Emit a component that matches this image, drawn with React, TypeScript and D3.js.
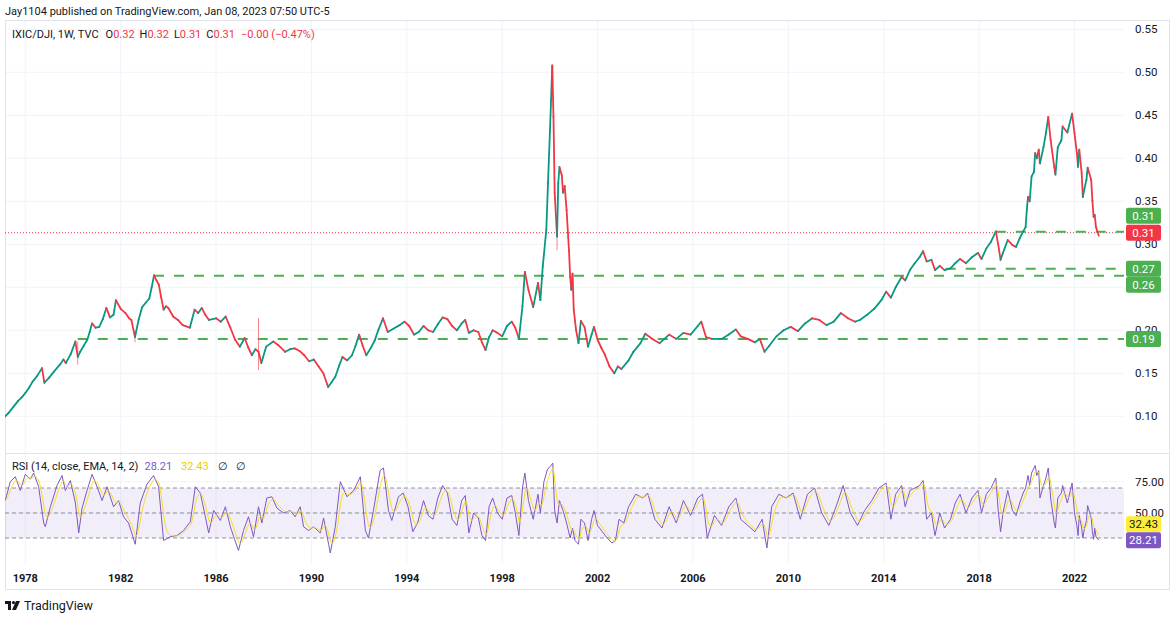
import React from 'react';
import * as d3 from 'd3';

// IXIC/DJI weekly as [decimal year, close]
const pricePoints: [number, number][] = [
  [1977.16, 0.100], [1977.3, 0.104], [1977.5, 0.111], [1977.7, 0.118], [1977.85, 0.122],
  [1978.0, 0.127], [1978.15, 0.133], [1978.3, 0.140], [1978.5, 0.147], [1978.7, 0.156],
  [1978.8, 0.139], [1979.0, 0.145], [1979.2, 0.152], [1979.45, 0.160], [1979.6, 0.166],
  [1979.7, 0.162], [1979.9, 0.172], [1980.1, 0.187], [1980.2, 0.169], [1980.3, 0.175],
  [1980.45, 0.182], [1980.6, 0.189], [1980.7, 0.198], [1980.8, 0.208], [1980.95, 0.203],
  [1981.1, 0.204], [1981.25, 0.213], [1981.4, 0.226], [1981.55, 0.215], [1981.7, 0.218],
  [1981.8, 0.235], [1982.0, 0.225], [1982.2, 0.220], [1982.35, 0.214], [1982.45, 0.212],
  [1982.6, 0.192], [1982.75, 0.212], [1982.9, 0.227], [1983.05, 0.232], [1983.2, 0.237],
  [1983.3, 0.250], [1983.4, 0.264], [1983.5, 0.258], [1983.6, 0.253], [1983.7, 0.238],
  [1983.8, 0.224], [1983.9, 0.228], [1984.0, 0.226], [1984.2, 0.216], [1984.4, 0.212],
  [1984.6, 0.206], [1984.9, 0.203], [1985.1, 0.224], [1985.25, 0.220], [1985.4, 0.226],
  [1985.55, 0.218], [1985.7, 0.212], [1986.0, 0.214], [1986.2, 0.210], [1986.4, 0.216],
  [1986.6, 0.203], [1986.8, 0.189], [1987.0, 0.181], [1987.2, 0.191], [1987.35, 0.180],
  [1987.5, 0.171], [1987.65, 0.178], [1987.78, 0.175], [1987.9, 0.162], [1988.1, 0.181],
  [1988.4, 0.187], [1988.6, 0.183], [1988.9, 0.175], [1989.1, 0.178], [1989.3, 0.179],
  [1989.5, 0.176], [1989.7, 0.171], [1989.9, 0.164], [1990.1, 0.166], [1990.3, 0.158],
  [1990.5, 0.150], [1990.7, 0.134], [1990.85, 0.140], [1991.0, 0.146], [1991.15, 0.158],
  [1991.3, 0.169], [1991.5, 0.165], [1991.7, 0.171], [1991.85, 0.182], [1992.0, 0.195],
  [1992.15, 0.182], [1992.3, 0.171], [1992.5, 0.180], [1992.65, 0.188], [1992.8, 0.200],
  [1993.0, 0.214], [1993.2, 0.198], [1993.45, 0.202], [1993.7, 0.206], [1993.9, 0.210],
  [1994.1, 0.205], [1994.3, 0.195], [1994.5, 0.198], [1994.7, 0.205], [1994.9, 0.200],
  [1995.1, 0.198], [1995.3, 0.207], [1995.5, 0.215], [1995.7, 0.213], [1995.9, 0.205],
  [1996.1, 0.200], [1996.3, 0.208], [1996.45, 0.212], [1996.6, 0.197], [1996.8, 0.200],
  [1997.0, 0.198], [1997.15, 0.186], [1997.3, 0.177], [1997.45, 0.192], [1997.6, 0.200],
  [1997.8, 0.197], [1998.0, 0.193], [1998.2, 0.205], [1998.4, 0.210], [1998.55, 0.203],
  [1998.7, 0.190], [1998.85, 0.228], [1998.95, 0.268], [1999.1, 0.247], [1999.3, 0.227],
  [1999.5, 0.255], [1999.6, 0.235], [1999.7, 0.274], [1999.85, 0.317], [1999.92, 0.371],
  [2000.0, 0.430], [2000.05, 0.468], [2000.1, 0.508], [2000.15, 0.448], [2000.2, 0.360],
  [2000.3, 0.309], [2000.35, 0.371], [2000.4, 0.390], [2000.5, 0.380], [2000.55, 0.360],
  [2000.62, 0.368], [2000.7, 0.340], [2000.8, 0.293], [2000.85, 0.262], [2000.9, 0.247],
  [2000.95, 0.266], [2001.0, 0.224], [2001.1, 0.200], [2001.2, 0.185], [2001.3, 0.211],
  [2001.45, 0.204], [2001.6, 0.181], [2001.75, 0.195], [2001.85, 0.204], [2002.0, 0.189],
  [2002.15, 0.180], [2002.3, 0.172], [2002.5, 0.158], [2002.7, 0.150], [2002.85, 0.158],
  [2003.0, 0.155], [2003.3, 0.165], [2003.5, 0.175], [2003.8, 0.185], [2004.0, 0.196],
  [2004.3, 0.190], [2004.6, 0.185], [2005.0, 0.195], [2005.3, 0.190], [2005.6, 0.197],
  [2005.9, 0.195], [2006.2, 0.205], [2006.35, 0.210], [2006.55, 0.192], [2006.8, 0.190],
  [2007.2, 0.190], [2007.5, 0.195], [2007.8, 0.201], [2008.0, 0.193], [2008.3, 0.190],
  [2008.6, 0.186], [2008.8, 0.190], [2009.0, 0.175], [2009.2, 0.182], [2009.5, 0.193],
  [2009.8, 0.200], [2010.1, 0.204], [2010.4, 0.199], [2010.7, 0.208], [2011.0, 0.214],
  [2011.3, 0.212], [2011.6, 0.206], [2011.9, 0.210], [2012.2, 0.220], [2012.5, 0.214],
  [2012.8, 0.210], [2013.0, 0.212], [2013.3, 0.218], [2013.6, 0.225], [2013.9, 0.235],
  [2014.1, 0.245], [2014.3, 0.238], [2014.5, 0.250], [2014.75, 0.262], [2014.9, 0.258],
  [2015.1, 0.270], [2015.3, 0.278], [2015.5, 0.285], [2015.65, 0.292], [2015.8, 0.280],
  [2016.0, 0.282], [2016.15, 0.270], [2016.35, 0.275], [2016.55, 0.270], [2016.8, 0.272],
  [2017.0, 0.278], [2017.2, 0.283], [2017.45, 0.278], [2017.7, 0.285], [2017.95, 0.290],
  [2018.1, 0.283], [2018.3, 0.295], [2018.5, 0.303], [2018.7, 0.315], [2018.8, 0.300],
  [2018.9, 0.282], [2019.0, 0.290], [2019.2, 0.305], [2019.4, 0.299], [2019.55, 0.297],
  [2019.7, 0.307], [2019.85, 0.315], [2019.95, 0.320], [2020.0, 0.340], [2020.05, 0.355],
  [2020.12, 0.350], [2020.2, 0.379], [2020.3, 0.384], [2020.35, 0.406], [2020.42, 0.400],
  [2020.5, 0.410], [2020.55, 0.394], [2020.7, 0.413], [2020.8, 0.429], [2020.9, 0.448],
  [2021.0, 0.421], [2021.15, 0.390], [2021.2, 0.381], [2021.3, 0.413], [2021.45, 0.421],
  [2021.5, 0.437], [2021.7, 0.430], [2021.9, 0.452], [2022.0, 0.429], [2022.1, 0.406],
  [2022.15, 0.390], [2022.2, 0.410], [2022.3, 0.383], [2022.35, 0.355], [2022.42, 0.365],
  [2022.5, 0.375], [2022.55, 0.389], [2022.7, 0.375], [2022.75, 0.351], [2022.8, 0.332],
  [2022.85, 0.334], [2022.9, 0.320], [2023.02, 0.310],
];

// single-week spikes: [decimal year, low, high]
const wicks: [number, number, number][] = [
  [1987.78, 0.154, 0.214], [2000.3, 0.293, 0.330], [1980.2, 0.160, 0.187], [1982.6, 0.186, 0.200],
];

// RSI(14): [decimal year, value]
const rsiPoints: [number, number][] = [
  [1977.16, 60], [1977.37, 75], [1977.58, 79], [1977.79, 68], [1978.0, 81], [1978.21, 77],
  [1978.35, 82], [1978.56, 71], [1978.77, 42], [1978.84, 39], [1979.05, 55], [1979.33, 72],
  [1979.54, 80], [1979.68, 68], [1979.89, 76], [1980.1, 58], [1980.24, 34], [1980.38, 54],
  [1980.59, 68], [1980.8, 81], [1981.01, 71], [1981.22, 60], [1981.43, 71], [1981.7, 55],
  [1981.91, 60], [1982.12, 47], [1982.33, 42], [1982.61, 25], [1982.82, 58], [1983.1, 73],
  [1983.38, 80], [1983.59, 71], [1983.8, 28], [1984.08, 31], [1984.36, 32], [1984.64, 36],
  [1984.92, 43], [1985.13, 71], [1985.34, 66], [1985.55, 47], [1985.69, 34], [1985.9, 52],
  [1986.18, 44], [1986.39, 55], [1986.6, 39], [1986.74, 31], [1986.94, 20], [1987.15, 36],
  [1987.36, 47], [1987.57, 31], [1987.78, 55], [1987.92, 42], [1988.13, 62], [1988.34, 63],
  [1988.55, 54], [1988.83, 50], [1989.11, 52], [1989.32, 47], [1989.53, 55], [1989.67, 39],
  [1989.88, 36], [1990.09, 39], [1990.37, 34], [1990.51, 46], [1990.72, 25], [1990.79, 18],
  [1991.0, 39], [1991.21, 75], [1991.49, 63], [1991.77, 68], [1992.05, 79], [1992.26, 36],
  [1992.39, 30], [1992.6, 52], [1992.88, 84], [1993.02, 86], [1993.23, 52], [1993.37, 44],
  [1993.65, 63], [1993.85, 66], [1994.05, 55], [1994.25, 35], [1994.45, 42], [1994.7, 60],
  [1994.9, 48], [1995.1, 45], [1995.3, 62], [1995.5, 72], [1995.7, 66], [1995.9, 45],
  [1996.1, 40], [1996.3, 60], [1996.45, 64], [1996.6, 34], [1996.8, 50], [1997.0, 46],
  [1997.15, 32], [1997.3, 28], [1997.45, 55], [1997.6, 62], [1997.8, 50], [1998.0, 45],
  [1998.2, 62], [1998.4, 64], [1998.55, 50], [1998.7, 32], [1998.85, 70], [1998.95, 82],
  [1999.1, 60], [1999.3, 45], [1999.5, 65], [1999.6, 50], [1999.75, 75], [1999.9, 85],
  [2000.05, 88], [2000.12, 90], [2000.2, 52], [2000.3, 42], [2000.4, 60], [2000.55, 52],
  [2000.7, 42], [2000.85, 30], [2000.95, 38], [2001.05, 28], [2001.2, 25], [2001.3, 45],
  [2001.45, 42], [2001.6, 28], [2001.75, 45], [2001.85, 52], [2002.0, 40], [2002.2, 35],
  [2002.4, 30], [2002.6, 26], [2002.75, 28], [2002.9, 45], [2003.1, 42], [2003.3, 55],
  [2003.6, 65], [2003.9, 62], [2004.1, 66], [2004.4, 45], [2004.7, 38], [2005.0, 55],
  [2005.3, 42], [2005.6, 60], [2005.9, 48], [2006.2, 62], [2006.4, 65], [2006.6, 30],
  [2006.9, 48], [2007.2, 40], [2007.5, 55], [2007.8, 62], [2008.0, 45], [2008.3, 40],
  [2008.6, 35], [2008.9, 45], [2009.1, 22], [2009.3, 55], [2009.6, 65], [2009.9, 62],
  [2010.2, 66], [2010.5, 45], [2010.8, 65], [2011.1, 70], [2011.4, 50], [2011.7, 40],
  [2012.0, 55], [2012.3, 72], [2012.6, 50], [2012.9, 40], [2013.2, 52], [2013.5, 60],
  [2013.8, 70], [2014.1, 74], [2014.3, 45], [2014.5, 65], [2014.75, 72], [2014.9, 55],
  [2015.1, 68], [2015.3, 70], [2015.5, 72], [2015.65, 76], [2015.8, 45], [2016.0, 50],
  [2016.15, 32], [2016.35, 50], [2016.55, 38], [2016.8, 45], [2017.0, 58], [2017.2, 65],
  [2017.45, 50], [2017.7, 62], [2017.95, 68], [2018.1, 50], [2018.3, 65], [2018.5, 70],
  [2018.7, 78], [2018.8, 52], [2018.9, 35], [2019.0, 50], [2019.2, 68], [2019.4, 52],
  [2019.55, 48], [2019.7, 58], [2019.85, 66], [2019.95, 70], [2020.05, 80], [2020.12, 72],
  [2020.2, 82], [2020.35, 88], [2020.42, 80], [2020.5, 84], [2020.55, 62], [2020.7, 72],
  [2020.8, 78], [2020.9, 86], [2021.0, 62], [2021.15, 42], [2021.2, 38], [2021.3, 62],
  [2021.45, 66], [2021.5, 72], [2021.7, 58], [2021.9, 74], [2022.0, 50], [2022.1, 40],
  [2022.15, 32], [2022.2, 48], [2022.3, 38], [2022.35, 30], [2022.42, 38], [2022.5, 44],
  [2022.55, 56], [2022.7, 46], [2022.75, 35], [2022.8, 29], [2022.85, 38], [2022.9, 31],
  [2023.02, 28.21],
];

const yearTicks = [1978, 1982, 1986, 1990, 1994, 1998, 2002, 2006, 2010, 2014, 2018, 2022];
const gridTicks = [0.10, 0.15, 0.20, 0.25, 0.30, 0.35, 0.40, 0.45, 0.50, 0.55];
// 0.25 sits under the level labels, so it is not written
const priceTicks = [0.10, 0.15, 0.20, 0.30, 0.35, 0.40, 0.45, 0.50, 0.55];
const rsiTicks = [75, 50];

// user-drawn horizontal levels: [start year, level, label]
const levels: [number, number, string][] = [
  [1980.2, 0.190, '0.19'],
  [1983.4, 0.2635, '0.26'],
  [2016.6, 0.2715, '0.27'],
  [2018.7, 0.3145, '0.31'],
];

const lastClose = 0.3135;
const rsiLast = 28.21;
const rsiMaLength = 14;

const GREEN = '#089981';
const RED = '#f23645';
const LINE_GREEN = '#4caf50';
const GRID = '#f0f3fa';
const BORDER = '#e0e3eb';
const TEXT = '#131722';
const FONT = 'Roboto, "Noto Sans", sans-serif';

export default function App() {
  const left = 5, right = 1124, frameRight = 1169;
  const top = 20, paneBottom = 453, rsiBottom = 563, bottom = 589;

  const x = d3.scaleLinear().domain([1978, 2022]).range([25.3, 1074.5]);
  const yP = d3.scaleLinear().domain([0.10, 0.55]).range([416.3, 29.3]);
  const yR = d3.scaleLinear().domain([30, 70]).range([538, 488]);

  // EMA(14) of the RSI, stepped weekly along the RSI path
  const alpha = 2 / (rsiMaLength + 1);
  const week = 1 / 52;
  const rsiMa: [number, number][] = [[rsiPoints[0][0], rsiPoints[0][1]]];
  let m = rsiPoints[0][1];
  for (let i = 1; i < rsiPoints.length; i++) {
    const [t0, v0] = rsiPoints[i - 1];
    const [t1, v1] = rsiPoints[i];
    const n = Math.max(1, Math.round((t1 - t0) / week));
    for (let k = 1; k <= n; k++) {
      m += alpha * (v0 + (v1 - v0) * k / n - m);
      rsiMa.push([t0 + (t1 - t0) * k / n, m]);
    }
  }

  const rsiLine = d3.line<[number, number]>().x(d => x(d[0])).y(d => yR(d[1]));

  const label = (cy: number, text: string, bg: string, fg = '#fff') => (
    <g key={text + cy + bg}>
      <rect x={1126} y={cy - 8} width={35} height={16} rx={2} fill={bg} />
      <text x={1143.5} y={cy + 4} textAnchor="middle" fontSize={11.5} fill={fg} fontFamily={FONT}>{text}</text>
    </g>
  );

  return (
    <svg width={1171} height={617} style={{ position: 'absolute', left: 0, top: 0, background: '#fff' }}>
      <rect width={1171} height={617} fill="#fff" />
      <defs>
        <clipPath id="main"><rect x={left} y={top} width={right - left} height={paneBottom - top} /></clipPath>
        <clipPath id="rsi"><rect x={left} y={paneBottom} width={right - left} height={rsiBottom - paneBottom} /></clipPath>
      </defs>

      <text x={5} y={15} fontSize={11} fill={TEXT} fontFamily={FONT}>
        Jay1104 published on TradingView.com, Jan 08, 2023 07:50 UTC-5
      </text>

      {/* grid */}
      {yearTicks.map(t => (
        <line key={'vg' + t} x1={x(t)} x2={x(t)} y1={top} y2={rsiBottom} stroke={GRID} />
      ))}
      {gridTicks.map(t => (
        <line key={'hg' + t} x1={left} x2={right} y1={yP(t)} y2={yP(t)} stroke={GRID} />
      ))}
      {rsiTicks.map(t => (
        <line key={'rg' + t} x1={left} x2={right} y1={yR(t)} y2={yR(t)} stroke={GRID} />
      ))}

      {/* frame */}
      <rect x={left + 0.5} y={top + 0.5} width={frameRight - left} height={bottom - top} fill="none" stroke={BORDER} />
      <line x1={left} x2={frameRight} y1={paneBottom + 0.5} y2={paneBottom + 0.5} stroke={BORDER} />

      {/* price pane */}
      <g clipPath="url(#main)">
        <line x1={left} x2={right} y1={yP(lastClose)} y2={yP(lastClose)} stroke={RED} strokeDasharray="1 2" strokeWidth={1} />
        {levels.map(l => (
          <line key={'lv' + l[2]} x1={x(l[0])} x2={right} y1={yP(l[1])} y2={yP(l[1])}
            stroke={LINE_GREEN} strokeWidth={2} strokeDasharray="10 10" />
        ))}
        {wicks.map(w => (
          <line key={'wk' + w[0]} x1={x(w[0])} x2={x(w[0])} y1={yP(w[1])} y2={yP(w[2])}
            stroke={RED} strokeOpacity={0.6} strokeWidth={1} />
        ))}
        {pricePoints.slice(1).map((p, i) => {
          const prev = pricePoints[i];
          const up = p[1] >= prev[1];
          return (
            <line key={'pp' + i} x1={x(prev[0])} y1={yP(prev[1])} x2={x(p[0])} y2={yP(p[1])}
              stroke={up ? GREEN : RED} strokeWidth={1.8} strokeLinecap="round" />
          );
        })}
      </g>

      {/* legend */}
      <text x={12} y={38} fontSize={11} fill={TEXT} fontFamily={FONT}>
        IXIC/DJI, 1W, TVC
        <tspan dx={7}>O</tspan><tspan fill={RED}>0.32</tspan>
        <tspan dx={5}>H</tspan><tspan fill={RED}>0.32</tspan>
        <tspan dx={5}>L</tspan><tspan fill={RED}>0.31</tspan>
        <tspan dx={5}>C</tspan><tspan fill={RED}>0.31</tspan>
        <tspan dx={6} fill={RED}>−0.00 (−0.47%)</tspan>
      </text>

      {/* price axis */}
      {priceTicks.map(t => (
        <text key={'pt' + t} x={1135} y={yP(t) + 4} fontSize={11.5} fill={TEXT} fontFamily={FONT}>{t.toFixed(2)}</text>
      ))}
      {label(yP(0.3145) - 16, '0.31', LINE_GREEN)}
      {label(yP(lastClose), '0.31', RED)}
      {label(yP(0.2715), '0.27', LINE_GREEN)}
      {label(yP(0.2715) + 16, '0.26', LINE_GREEN)}
      {label(yP(0.190), '0.19', LINE_GREEN)}

      {/* RSI pane */}
      <rect x={left} y={yR(70)} width={right - left} height={yR(30) - yR(70)} fill="#7e57c2" fillOpacity={0.1} />
      {[70, 50, 30].map(t => (
        <line key={'rb' + t} x1={left} x2={right} y1={yR(t)} y2={yR(t)} stroke="#787b86" strokeDasharray="4 3" strokeOpacity={0.8} />
      ))}
      <g clipPath="url(#rsi)">
        <path d={rsiLine(rsiPoints) || ''} fill="none" stroke="#7e57c2" strokeWidth={1} />
        <path d={rsiLine(rsiMa) || ''} fill="none" stroke="#f5dd1c" strokeWidth={1} />
      </g>
      <text x={12} y={470} fontSize={11} fill={TEXT} fontFamily={FONT}>
        RSI (14, close, EMA, 14, 2)
        <tspan dx={6} fill="#7e57c2">28.21</tspan>
        <tspan dx={9} fill="#e8d000">32.43</tspan>
        <tspan dx={9}>∅</tspan>
        <tspan dx={8}>∅</tspan>
      </text>
      {rsiTicks.map(t => (
        <text key={'rt' + t} x={1135} y={yR(t) + 4} fontSize={11.5} fill={TEXT} fontFamily={FONT}>{t.toFixed(2)}</text>
      ))}
      {label(yR(rsiLast) - 16, '32.43', '#ffeb3b', TEXT)}
      {label(yR(rsiLast), '28.21', '#7e57c2')}

      {/* time axis */}
      {yearTicks.map(t => (
        <text key={'yt' + t} x={x(t)} y={582} textAnchor="middle" fontSize={11} fontWeight={700} fill={TEXT} fontFamily={FONT}>{t}</text>
      ))}

      {/* footer logo */}
      <g transform="translate(5,601)" fill={TEXT}>
        <path d="M0 0 H6 V9 H3 V3 H0 Z" />
        <circle cx={8.5} cy={1.6} r={1.6} />
        <path d="M11 0 H15 L11 9 H7 Z" />
      </g>
      <text x={24} y={610} fontSize={12.5} fill={TEXT} fontFamily={FONT}>TradingView</text>
    </svg>
  );
}
